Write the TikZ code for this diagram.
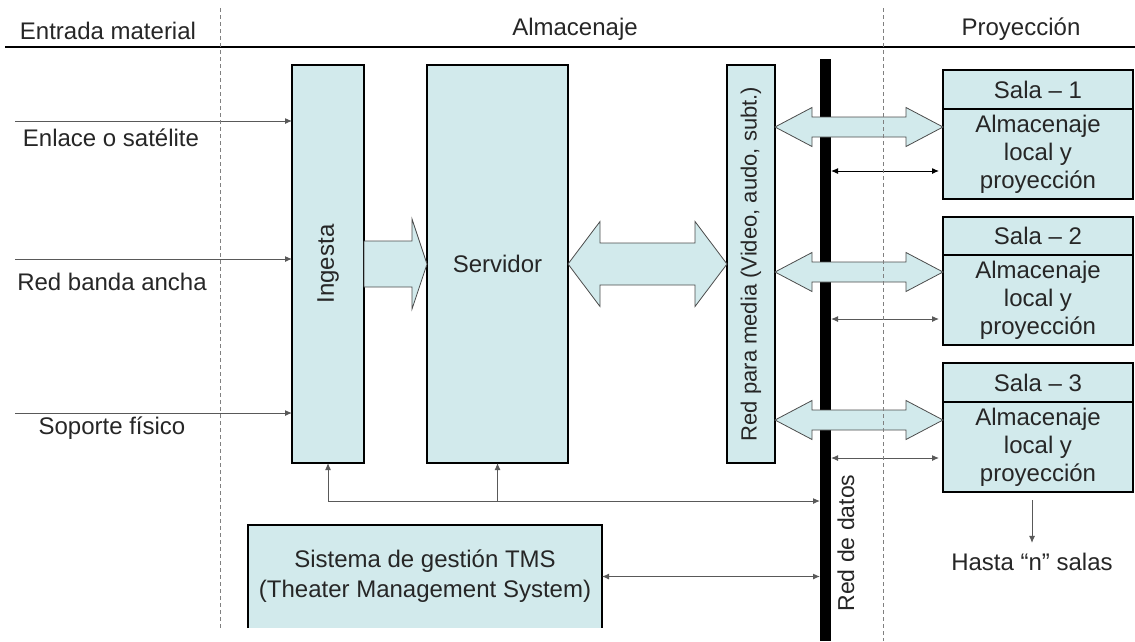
\documentclass[tikz,border=0pt]{standalone}
\usepackage{fontspec}
\setmainfont{Liberation Sans}
\usepackage{graphicx}
\usetikzlibrary{positioning,arrows.meta,calc}
\definecolor{boxfill}{HTML}{D2EAEC}
\definecolor{txt}{HTML}{262626}
\tikzset{
  >={Latex[length=7pt,width=6pt]},
  box/.style={draw=black, line width=1.8pt, fill=boxfill, inner sep=0pt,
    outer sep=0pt, anchor=north west, text=txt},
  lbl/.style={text=txt, inner sep=1pt},
  conn/.style={->, draw=gray!70!black, line width=1pt},
  busbar/.style={fill=black, inner sep=0pt, outer sep=0pt, anchor=north west},
  colsep/.style={draw=gray, dash pattern=on 4pt off 3pt, line width=0.8pt},
  % block arrows: #1 half body, #2 half head, #3 head length
  dbl/.style n args={3}{draw=gray!60!black, fill=boxfill, line width=0.8pt,
    to path={let \p1=(\tikztostart), \p2=(\tikztotarget) in
      (\x1,\y1) -- (\x1+#3,\y1+#2) -- (\x1+#3,\y1+#1) -- (\x2-#3,\y1+#1)
      -- (\x2-#3,\y1+#2) -- (\x2,\y1) -- (\x2-#3,\y1-#2) -- (\x2-#3,\y1-#1)
      -- (\x1+#3,\y1-#1) -- (\x1+#3,\y1-#2) -- cycle}},
  sgl/.style n args={3}{draw=gray!60!black, fill=boxfill, line width=0.8pt,
    to path={let \p1=(\tikztostart), \p2=(\tikztotarget) in
      (\x1,\y1+#1) -- (\x2-#3,\y1+#1) -- (\x2-#3,\y1+#2) -- (\x2,\y1)
      -- (\x2-#3,\y1-#2) -- (\x2-#3,\y1-#1) -- (\x1,\y1-#1) -- cycle}},
}

\begin{document}
\begin{tikzpicture}[
  x=1pt,y=-1pt,
  every node/.style={font=\fontsize{24}{28}\selectfont},
]
\useasboundingbox (0,0) rectangle (1135,641);

% headings
\node[lbl, anchor=base] (hin) at (108,39) {Entrada material};
\node[lbl, anchor=base] (halm) at (575,35) {Almacenaje};
\node[lbl, anchor=base] (hpro) at (1021,35) {Proyección};
\draw[line width=1.5pt] (5,47) -- (1135,47);

% data bus
\node[busbar, minimum width=11pt, minimum height=582pt] (bus) at (820,59) {};

% salas
\node[box, minimum width=190pt, minimum height=39pt] (s1t) at (943,70) {Sala – 1};
\node[box, minimum width=190pt, minimum height=90pt, below=0pt of s1t, align=center] (s1b) {Almacenaje\\local y\\proyección};
\node[box, minimum width=190pt, minimum height=38pt, below=18pt of s1b] (s2t) {Sala – 2};
\node[box, minimum width=190pt, minimum height=90pt, below=0pt of s2t, align=center] (s2b) {Almacenaje\\local y\\proyección};
\node[box, minimum width=190pt, minimum height=39pt, below=18pt of s2b] (s3t) {Sala – 3};
\node[box, minimum width=190pt, minimum height=90pt, below=0pt of s3t, align=center] (s3b) {Almacenaje\\local y\\proyección};

% storage blocks
\node[box, minimum width=72pt, minimum height=398pt] (ing) at (292,65) {\rotatebox{90}{Ingesta}};
\node[box, minimum width=141pt, minimum height=398pt] (srv) at (427,65) {Servidor};
\node[box, minimum width=48pt, minimum height=398pt,
  font=\fontsize{22}{26}\selectfont] (med) at (727,65) {\rotatebox{90}{Red para media (Video, audo, subt.)}};

% block arrows
\draw[sgl={23pt}{45pt}{15pt}] (ing.east) to (ing.east -| srv.west);
\draw[dbl={21pt}{42.5pt}{32pt}] (srv.east) to (med.west);
\coordinate (m1) at ($(s1b.north west)+(0,18)$);
\coordinate (m2) at ($(s2b.north west)+(0,17)$);
\coordinate (m3) at ($(s3b.north west)+(0,18)$);
\draw[dbl={10pt}{19.5pt}{37pt}] (m1 -| med.east) to (m1);
\draw[dbl={10pt}{19.5pt}{37pt}] (m2 -| med.east) to (m2);
\draw[dbl={10pt}{19.5pt}{37pt}] (m3 -| med.east) to (m3);

\node[lbl, rotate=90, font=\fontsize{23}{26}\selectfont] (ldat) at (846,543) {Red de datos};

% data links to salas
\coordinate (d1) at (831,171);
\coordinate (d2) at (831,319);
\coordinate (d3) at (831,458);
\draw[conn, <->, shorten >=4pt, draw=black] (d1) -- (d1 -| s1b.west);
\draw[conn, <->, shorten >=4pt] (d2) -- (d2 -| s2b.west);
\draw[conn, <->, shorten >=4pt] (d3) -- (d3 -| s3b.west);

\node[lbl] (hasta) at (1032,562) {Hasta “n” salas};
\coordinate (hn) at ($(s3b.south)+(0,8)$);
\draw[conn] (hn -| hasta.north) -- ([yshift=9pt]hasta.north);

% inputs
\coordinate (in1) at (15,121);
\coordinate (in2) at (15,259);
\coordinate (in3) at (15,413);
\draw[conn] (in1) -- (in1 -| ing.west);
\draw[conn] (in2) -- (in2 -| ing.west);
\draw[conn] (in3) -- (in3 -| ing.west);
\node[lbl] (lin1) at (111,138) {Enlace o satélite};
\node[lbl] (lin2) at (112,282) {Red banda ancha};
\node[lbl] (lin3) at (112,428) {Soporte físico};

% TMS
\node[box, draw=none, minimum width=354pt, minimum height=103pt, align=center,
  font=\fontsize{24}{30}\selectfont] (tms) at (248,525) {Sistema de gestión TMS\\(Theater Management System)};
\draw[line width=1.8pt] (tms.south west) -- (tms.north west) -- (tms.north east) -- (tms.south east);

% control links
\path (ing.south) ++(0,38) coordinate (ctl);
\draw[conn] (ctl) -- (ing.south);
\draw[conn] (ctl -| srv.south) -- (srv.south);
\draw[conn] (ctl) -- (ctl -| bus.west);
\draw[conn, <->] (tms.east) -- (tms.east -| bus.west);

% column separators
\draw[colsep] (220,8) -- (220,630);
\draw[colsep] (883,8) -- (883,641);
\end{tikzpicture}
\end{document}
